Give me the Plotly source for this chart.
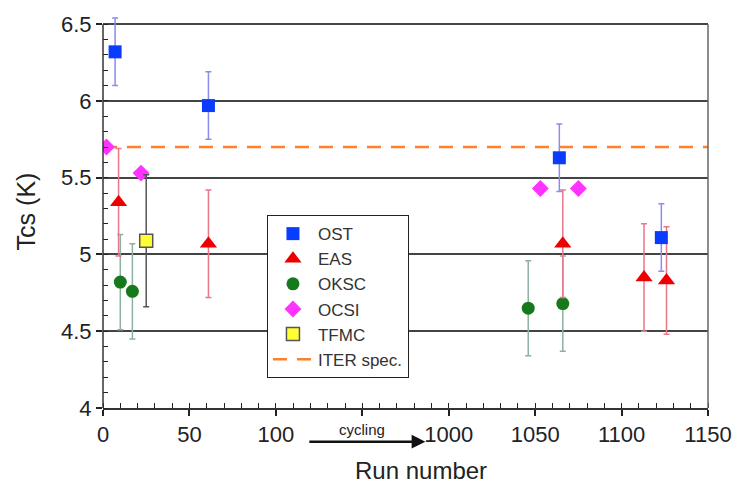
import plotly.graph_objects as go

# ---- data ----
tick_runs = [0, 50, 100, None, 1000, 1050, 1100, 1150]
tick_labels = ["0", "50", "100", "", "1000", "1050", "1100", "1150"]

ost_run = [7, 61, 1064, 1123]
ost_tcs = [6.32, 5.97, 5.63, 5.11]
ost_err = [0.22, 0.22, 0.22, 0.22]

eas_run = [9, 61, 1066, 1113, 1126]
eas_tcs = [5.34, 5.07, 5.07, 4.85, 4.83]
eas_err = [0.35, 0.35, 0.35, 0.35, 0.35]

oksc_run = [10, 17, 1046, 1066]
oksc_tcs = [4.82, 4.76, 4.65, 4.68]
oksc_err = [0.31, 0.31, 0.31, 0.31]

ocsi_run = [2, 22, 1053, 1075]
ocsi_tcs = [5.70, 5.53, 5.43, 5.43]

tfmc_run = [25]
tfmc_tcs = [5.09]
tfmc_err = [0.43]

iter_run = [0, 1150]
iter_spec = [5.70, 5.70]

y_ticks = [4, 4.5, 5, 5.5, 6, 6.5]
y_tick_labels = ["4", "4.5", "5", "5.5", "6", "6.5"]


# broken x axis: 0..150 then (cycling) 1000..1150, 50 units per slot
def pos(r):
    return r / 50.0 if r < 500 else 4 + (r - 1000) / 50.0


def P(runs):
    return [pos(r) for r in runs]


tick_pos = [i for i, r in enumerate(tick_runs)]

FONT = "Liberation Sans, Arial, Helvetica, sans-serif"
Y_MIN, Y_TOP = 4, 6.5

fig = go.Figure()

fig.add_trace(go.Scatter(
    x=P(iter_run), y=iter_spec, mode="lines", name="ITER spec.",
    line=dict(color="#ff7f2a", width=2.5, dash="14px,10px"),
    legendrank=6, showlegend=True))

fig.add_trace(go.Scatter(
    x=P(oksc_run), y=oksc_tcs, mode="markers", name="OKSC",
    marker=dict(symbol="circle", size=13, color="#167a1c"),
    error_y=dict(type="data", array=oksc_err, color="#8fb0a0", thickness=1.5, width=3),
    legendrank=3))

fig.add_trace(go.Scatter(
    x=P(eas_run), y=eas_tcs, mode="markers", name="EAS",
    marker=dict(symbol="triangle-up", size=15, color="#ee0000"),
    error_y=dict(type="data", array=eas_err, color="#e87888", thickness=1.5, width=3),
    legendrank=2))

fig.add_trace(go.Scatter(
    x=P(ost_run), y=ost_tcs, mode="markers", name="OST",
    marker=dict(symbol="square", size=13, color="#0a3cff"),
    error_y=dict(type="data", array=ost_err, color="#8a8cf0", thickness=1.5, width=3),
    legendrank=1))

fig.add_trace(go.Scatter(
    x=P(ocsi_run), y=ocsi_tcs, mode="markers", name="OCSI",
    marker=dict(symbol="diamond", size=13, color="#ff33ff"),
    legendrank=4))

fig.add_trace(go.Scatter(
    x=P(tfmc_run), y=tfmc_tcs, mode="markers", name="TFMC",
    marker=dict(symbol="square", size=13, color="#ffff33",
                line=dict(color="#555555", width=1.5)),
    error_y=dict(type="data", array=tfmc_err, color="#555555", thickness=1.5, width=3),
    legendrank=5))

# page body has an 8px margin; the figure is sized to fill the rest of the window.
# The y range runs a little past 6.5 so the top error bar is not cut; the frame
# is drawn at 6.5.
fig.update_layout(
    width=733, height=478,
    margin=dict(l=95, r=33, t=7, b=78, autoexpand=False),
    paper_bgcolor="white", plot_bgcolor="white",
    font=dict(family=FONT, color="#222222"),
    legend=dict(x=0.271, y=0.4909, xanchor="left", yanchor="top",
                bgcolor="white", bordercolor="#222222", borderwidth=1,
                font=dict(size=17, family=FONT, color="#333333"),
                tracegroupgap=0, itemwidth=40),
)

fig.update_xaxes(
    range=[0, 7], tickmode="array", tickvals=tick_pos, ticktext=tick_labels,
    showgrid=False, zeroline=False,
    showline=True, linecolor="#333333", linewidth=1.5, mirror=False,
    ticks="outside", ticklen=6, tickcolor="#222222", tickwidth=1.5,
    tickfont=dict(size=22, family=FONT, color="#222222"),
    minor=dict(dtick=0.2, tick0=0, ticks="inside", ticklen=5, tickcolor="#222222", tickwidth=1, showgrid=False),
)

fig.update_yaxes(
    range=[Y_MIN, 6.56], tickmode="array", tickvals=y_ticks, ticktext=y_tick_labels,
    showgrid=True, gridcolor="#444444", gridwidth=1.6, zeroline=False,
    showline=False,
    ticks="outside", ticklen=6, tickcolor="#222222", tickwidth=1.5,
    tickfont=dict(size=22, family=FONT, color="#222222"),
    minor=dict(dtick=0.1, tick0=4, ticks="inside", ticklen=5, tickcolor="#222222", tickwidth=1, showgrid=False),
    title=dict(text="Tcs (K)", font=dict(size=25, family=FONT, color="#222222"), standoff=18),
)

# left axis line and right frame edge, ending at the top gridline
fig.add_shape(type="line", xref="paper", yref="y", x0=0, x1=0, y0=Y_MIN, y1=Y_TOP,
              line=dict(color="#333333", width=1.5), layer="above")
fig.add_shape(type="line", xref="paper", yref="y", x0=1, x1=1, y0=Y_MIN, y1=Y_TOP,
              line=dict(color="#666666", width=1.5), layer="above")

# x axis title (sits slightly right of centre in the reference)
fig.add_annotation(x=0.526, y=-0.158, xref="paper", yref="paper", yanchor="middle",
                   showarrow=False, text="Run number",
                   font=dict(size=24, family=FONT, color="#222222"))

# "cycling" break marker on the x axis
fig.add_annotation(x=3.73, y=-0.0858, xref="x", yref="paper",
                   ax=2.37, ay=0, axref="x", ayref="pixel",
                   showarrow=True, arrowhead=2, arrowsize=1.1, arrowwidth=2.5,
                   arrowcolor="#111111", text="")
fig.add_annotation(x=3.0, y=-0.054, xref="x", yref="paper", yanchor="middle", showarrow=False,
                   text="cycling", font=dict(size=15, family=FONT, color="#222222"))

fig.write_html("out.html")
